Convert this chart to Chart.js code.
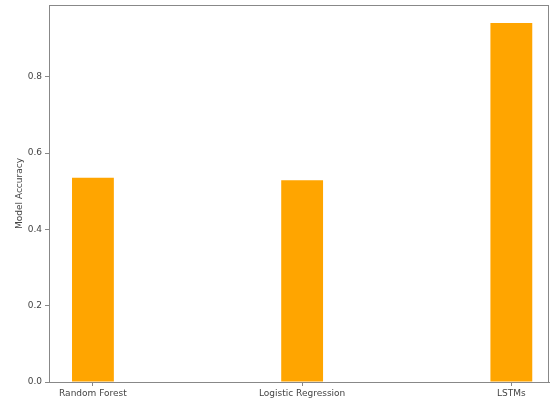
<!DOCTYPE html>
<html lang="en">
<head>
    <meta charset="UTF-8">
    <title>Model Accuracy</title>
    <script src="https://cdn.jsdelivr.net/npm/chart.js"></script>
    <style>
        body { margin: 0; background: #fff; overflow: hidden; }
        #wrap { width: 550px; height: 405px; }
    </style>
</head>
<body>
    <div id="wrap"><canvas id="accChart"></canvas></div>

    <script>
        // chart data
        const models = ['Random Forest', 'Logistic Regression', 'LSTMs'];
        const accuracy = [0.535, 0.529, 0.941];
        const yTicks = [0.0, 0.2, 0.4, 0.6, 0.8];

        const textColor = '#444';
        const spineColor = '#888';

        // draw the top and right spines like matplotlib
        const frame = {
            id: 'frame',
            afterDatasetsDraw(chart) {
                const a = chart.chartArea;
                const ctx = chart.ctx;
                ctx.save();
                ctx.strokeStyle = spineColor;
                ctx.lineWidth = 1;
                ctx.strokeRect(a.left + 0.5, a.top + 0.5, a.right - a.left - 1, a.bottom - a.top);
                ctx.restore();
            }
        };

        const ctx = document.getElementById('accChart').getContext('2d');
        new Chart(ctx, {
            type: 'bar',
            data: {
                datasets: [{
                    data: accuracy.map((v, i) => ({ x: i, y: v })),
                    backgroundColor: '#FFA500',
                    borderWidth: 0,
                    barPercentage: 0.2,
                    categoryPercentage: 1.0
                }]
            },
            options: {
                responsive: true,
                maintainAspectRatio: false,
                animation: false,
                layout: { padding: { top: 5, right: 1, left: 0, bottom: 0 } },
                plugins: { legend: { display: false }, tooltip: { enabled: false } },
                scales: {
                    x: {
                        type: 'linear',
                        min: -0.21,
                        max: 2.18,
                        offset: false,
                        afterBuildTicks: s => { s.ticks = models.map((_, i) => ({ value: i })); },
                        afterFit: s => { s.height = 23; },
                        grid: { offset: false, drawOnChartArea: false, drawTicks: true, tickLength: 4, color: spineColor },
                        border: { display: true, color: spineColor },
                        ticks: {
                            color: textColor,
                            font: { family: 'DejaVu Sans', size: 9 },
                            padding: 2,
                            maxRotation: 0,
                            callback: v => models[v]
                        }
                    },
                    y: {
                        min: 0,
                        max: 0.988,
                        afterBuildTicks: s => { s.ticks = yTicks.map(v => ({ value: v })); },
                        afterFit: s => { s.width = 49; s.paddingTop = 0; s.paddingBottom = 0; },
                        grid: { drawOnChartArea: false, drawTicks: true, tickLength: 4, color: spineColor },
                        border: { display: true, color: spineColor },
                        ticks: {
                            color: textColor,
                            font: { family: 'DejaVu Sans', size: 9 },
                            padding: 3,
                            callback: v => Number(v).toFixed(1)
                        },
                        title: {
                            display: true,
                            text: 'Model Accuracy',
                            color: textColor,
                            font: { family: 'DejaVu Sans', size: 9 },
                            padding: { top: 14, bottom: 0 }
                        }
                    }
                }
            },
            plugins: [frame]
        });
    </script>
</body>
</html>
